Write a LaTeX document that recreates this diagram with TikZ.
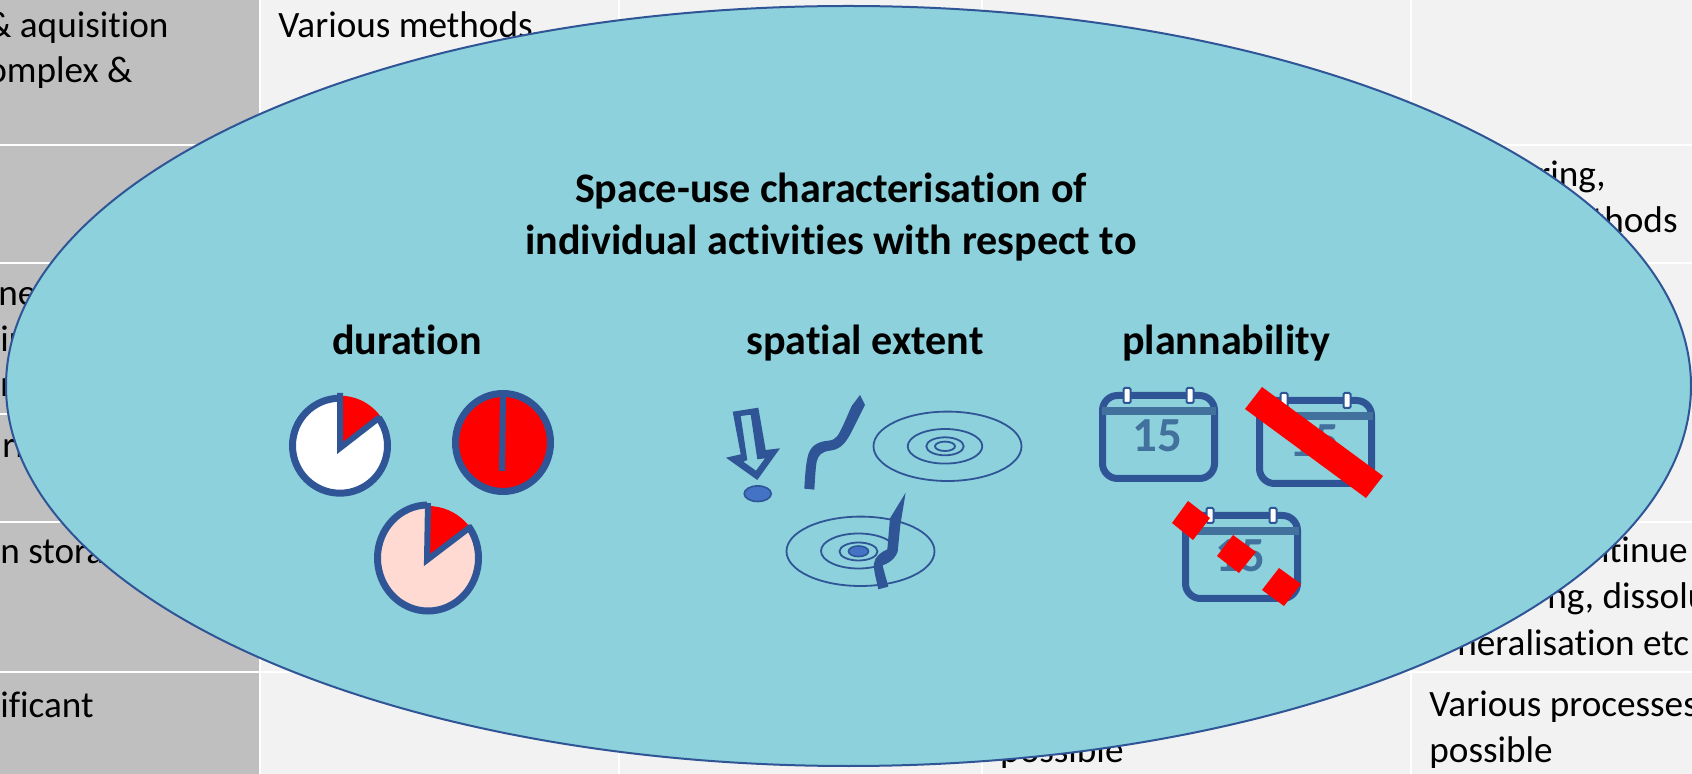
\documentclass[tikz,border=0pt]{standalone}
\usepackage{fontspec}
\setmainfont{Carlito}[Ligatures={NoCommon}]
\definecolor{hdr}{HTML}{BFBFBF}
\definecolor{cell}{HTML}{F2F2F2}
\definecolor{lagoon}{HTML}{8CD1DB}
\definecolor{ink}{HTML}{2F5597}
\definecolor{bar}{HTML}{41719C}
\definecolor{dot}{HTML}{4472C4}
\definecolor{blush}{HTML}{FFDAD2}
\tikzset{
  tabletext/.style={inner sep=0pt,font=\fontsize{18.6}{23}\selectfont,text=black,anchor=base west},
  tabletextr/.style={tabletext,anchor=base east},
  headtext/.style={inner sep=0pt,font=\fontsize{21.05}{26}\selectfont\bfseries,text=black,anchor=base},
  caltext/.style={inner sep=0pt,font=\fontsize{24.5}{28}\selectfont\bfseries,text=bar,anchor=base},
  piering/.style={draw=ink,line width=3.5pt,miter limit=10},
  thin ring/.style={draw=ink,line width=.9pt},
  cutmark/.style={fill=red,draw=none},
  rule/.style={draw=white,line width=1.25pt}
}
\newcommand\calicon[3]{%
  \begin{scope}[shift={(#1,#2)}]
    \draw[ink,line width=3.5pt,rounded corners=7.5pt] (3.5,3.5) rectangle (115.5,86.5);
    \fill[bar] (3,15) rectangle (117,23);
    \draw[ink,fill=white,line width=1pt,rounded corners=.6pt] (24.5,-4) rectangle (31.5,11);
    \draw[ink,fill=white,line width=1pt,rounded corners=.6pt] (87.5,-4) rectangle (94.5,11);
    \node[caltext] (#3) at (58,60) {15};
  \end{scope}}
\begin{document}
\begin{tikzpicture}[x=.5pt,y=-.5pt]
\useasboundingbox (0,0) rectangle (1692,774);
\clip (0,0) rectangle (1692,774);
% table
\fill[cell] (0,0) rectangle (1692,774);
\fill[hdr] (0,0) rectangle (260,774);
\foreach \r in {145,263,414,522,672} \draw[rule] (0,\r) -- (1692,\r);
\foreach \c in {260,619,982,1411} \draw[rule] (\c,0) -- (\c,774);
% table text
\node[tabletextr] (t1) at (169,38) {\& aquisition};
\node[tabletextr] (t2) at (133,83) {omplex \&};
\node[tabletext] (t3) at (278,38) {Various methods};
\node[tabletextr] (t4) at (1606,187) {ring,};
\node[tabletextr] (t5) at (1678,233) {thods};
\node[tabletext] (t6) at (-2,306) {ner};
\node[tabletext] (t7) at (0,352) {ir};
\node[tabletext] (t8) at (0,397) {r};
\node[tabletext] (t9) at (2,458) {rn};
\node[tabletext] (t10) at (0,564) {n stora};
\node[tabletextr] (t11) at (94,717) {ificant};
\node[tabletextr] (t12) at (1688,563) {ntinue};
\node[tabletext] (t13) at (1547,609) {ng, dissolu};
\node[tabletext] (t14) at (1457,655) {neralisation etc};
\node[tabletext] (t15) at (1429,716) {Various processes};
\node[tabletext] (t16) at (1429,762) {possible};
\node[tabletextr] (t17) at (1124,762) {possible};
% big ellipse
\draw[ink,fill=lagoon,line width=1pt] (848.5,386) ellipse [x radius=842.5,y radius=380];
% headings
\node[headtext] (h1) at (831,203) {Space-use characterisation of};
\node[headtext] (h2) at (831,255) {individual activities with respect to};
\node[headtext] (h3) at (407,355) {duration};
\node[headtext] (h4) at (865,355) {spatial extent};
\node[headtext] (h5) at (1226,355) {plannability};
% pie 1: ring stops at the red slice
\fill[white] (340,445.7) circle [radius=47.5];
\draw[piering] (340,445.7) circle [radius=47.5];
\begin{scope}
  \clip (339.5,448) -- (339.5,380) -- (420,380) -- (420,385) -- cycle;
  \fill[lagoon] (340,445.7) circle [radius=53];
  \fill[red] (340,445.7) circle [radius=50];
\end{scope}
\draw[piering,line width=3pt] (340,393) -- (340,448) -- (380,417);
% pie 2
\draw[piering,fill=red] (503,442.5) ellipse [x radius=47.5,y radius=49];
\draw[ink,line width=3pt] (503,393) -- (502,471);
% pie 3: ring stops at the red slice
\fill[blush] (428,558) ellipse [x radius=50.5,y radius=53];
\draw[piering] (428,558) ellipse [x radius=50.5,y radius=53];
\begin{scope}
  \clip (427,560) -- (427,490) -- (510,490) -- (510,492) -- cycle;
  \fill[lagoon] (428,558) ellipse [x radius=56,y radius=58];
  \fill[red] (428,558) circle [radius=52];
\end{scope}
\draw[piering,line width=3pt] (428,503) -- (427,560) -- (471,526.5);
% arrow over a point
\fill[ink,even odd rule]
  (732.7,411.7) -- (758.3,407.7) -- (765.7,450) -- (780,448.3) -- (757.3,480) -- (726,457.7) -- (740.7,454.3) -- cycle
  (740.7,416) -- (750.7,414.7) -- (757.3,459.3) -- (765,458.3) -- (756,470.7) -- (743.3,461.7) -- (747.3,460) -- cycle;
\draw[ink,fill=dot,line width=.8pt] (757.7,493.7) ellipse [x radius=13.5,y radius=7.8];
% line shape
\begin{scope}[shift={(650,350)},x=.5pt/3,y=-.5pt/3]
  \fill[ink] (463,416) .. controls (465,380) and (467,350) .. (472,325)
    .. controls (478,290) and (500,275) .. (535,272)
    .. controls (560,270) and (565,255) .. (580,225)
    -- (605,168) -- (630,135) -- (645,165) -- (610,235)
    .. controls (590,275) and (575,298) .. (540,302)
    .. controls (515,305) and (505,315) .. (500,335)
    .. controls (496,360) and (495,390) .. (493,419) -- cycle;
\end{scope}
% area shape
\draw[thin ring] (947.5,446.3) ellipse [x radius=74,y radius=34.7];
\draw[thin ring] (945,446.3) ellipse [x radius=37.3,y radius=17.3];
\draw[thin ring] (945,446.3) ellipse [x radius=18.7,y radius=9];
\draw[thin ring] (945,446.3) ellipse [x radius=10,y radius=4.7];
% combined shape
\draw[thin ring] (860.5,551.3) ellipse [x radius=74,y radius=34.7];
\draw[thin ring] (858.5,551) ellipse [x radius=37.5,y radius=17.5];
\draw[thin ring] (858.5,551.5) ellipse [x radius=19,y radius=9];
\draw[ink,fill=dot,line width=.8pt] (858.5,551.3) ellipse [x radius=10,y radius=5.3];
\begin{scope}[shift={(770,480)},x=.5pt/3,y=-.5pt/3]
  \fill[ink] (325,328) .. controls (318,295) and (310,270) .. (312,250)
    .. controls (314,230) and (335,215) .. (352,208)
    -- (360,115) -- (407,38) -- (391,135) -- (383,215)
    .. controls (375,238) and (350,243) .. (337,252)
    .. controls (342,275) and (350,300) .. (355,320) -- cycle;
\end{scope}
% calendars
\calicon{1099}{392}{c1}
\calicon{1256}{397}{c2}
\calicon{1182}{512}{c3}
\fill[cutmark] (1262,387) -- (1383,476) -- (1366,498) -- (1245,409) -- cycle;
\fill[cutmark] (1188,501) -- (1210,518) -- (1193,540) -- (1172,523) -- cycle;
\fill[cutmark] (1233,535) -- (1256,552) -- (1239,573) -- (1217,556) -- cycle;
\fill[cutmark] (1279,568) -- (1301,584) -- (1284,606) -- (1262,590) -- cycle;
\end{tikzpicture}
\end{document}
